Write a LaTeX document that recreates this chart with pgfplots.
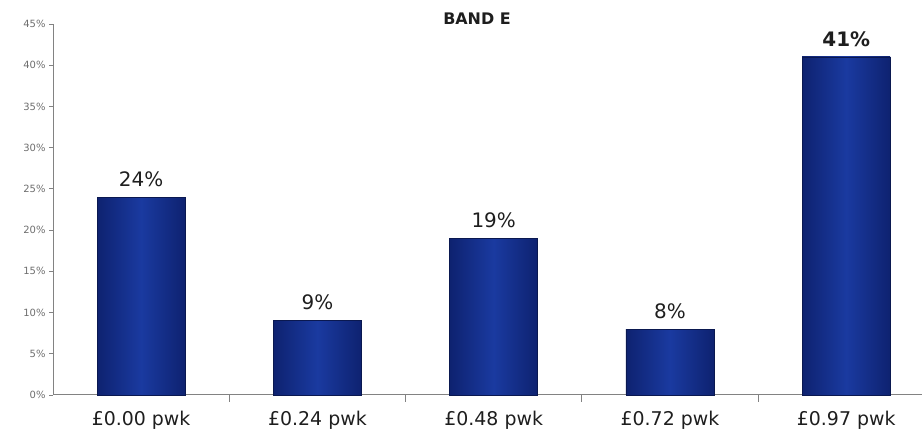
\documentclass[border=0pt]{standalone}
\usepackage{pgfplots}
\pgfplotsset{compat=1.18}
\usepackage{fontspec}
\setmainfont{DejaVu Sans}
\definecolor{barmid}{RGB}{26,58,160}
\definecolor{baredge}{RGB}{14,34,112}
\definecolor{bardraw}{RGB}{10,24,80}
\definecolor{axgray}{RGB}{130,130,130}
\definecolor{labgray}{RGB}{110,110,110}
\begin{document}
\begin{tikzpicture}[x=1bp,y=1bp]
\path[use as bounding box] (0,0) rectangle (922,436);
\begin{axis}[
  at={(53bp,41bp)}, anchor=south west,
  scale only axis, width=869bp, height=371bp,
  xmin=-0.5, xmax=4.43, ymin=0, ymax=45,
  axis x line*=bottom, axis y line*=left,
  axis line style={axgray, line width=1pt},
  ytick={0,5,...,45},
  yticklabel={\pgfmathprintnumber{\tick}\%},
  yticklabel style={font=\fontsize{10}{10}\selectfont, text=labgray},
  /pgf/number format/assume math mode=true,
  ytick style={axgray, line width=0.8pt},
  tick align=outside, major tick length=4bp, minor tick length=7bp,
  xtick={0,1,2,3,4},
  xticklabels={£0.00 pwk, £0.24 pwk, £0.48 pwk, £0.72 pwk, £0.97 pwk},
  xticklabel style={font=\fontsize{19}{19}\selectfont, text={rgb,255:red,30;green,30;blue,30}, yshift=-9bp},
  every major x tick/.append style={draw=none},
  minor xtick={0.5,1.5,2.5,3.5},
  every minor x tick/.append style={draw=axgray, line width=0.8pt},
  ybar, bar width=88bp, bar shift=0pt,
  nodes near coords={\pgfmathprintnumber{\pgfplotspointmeta}\%},
  every node near coord/.append style={font=\fontsize{20}{20}\selectfont, text={rgb,255:red,30;green,30;blue,30}, yshift=7bp},
  clip=false,
  barstyle/.style={draw=bardraw, line width=0.6pt, shading=axis, shading angle=90, left color=baredge, right color=baredge, middle color=barmid},
]
\addplot[barstyle] coordinates {(0,24)};
\addplot[barstyle] coordinates {(1,9)};
\addplot[barstyle] coordinates {(2,19)};
\addplot[barstyle] coordinates {(3,8)};
\addplot[barstyle, every node near coord/.append style={font=\fontsize{20}{20}\selectfont\bfseries}]
  coordinates {(4,41)};
\end{axis}
\node[font=\fontsize{16}{16}\selectfont\bfseries, anchor=base, text={rgb,255:red,30;green,30;blue,30}] at (477,411) {BAND E};
\end{tikzpicture}
\end{document}
